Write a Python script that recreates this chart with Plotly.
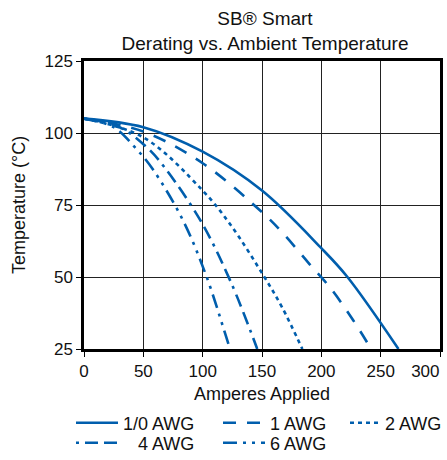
import plotly.graph_objects as go

# Data (Amperes, Temperature °C)
awg10_x = [0, 50, 100, 150, 200, 222, 265]
awg10_y = [105, 102, 93.5, 80, 60, 50, 25]

awg1_x = [0, 50, 100, 150, 167, 190, 208, 226, 242]
awg1_y = [105, 100.5, 89.5, 72.5, 65.5, 54.5, 46, 35.5, 25]

awg2_x = [0, 50, 100, 123, 152, 167, 184]
awg2_y = [105, 98.5, 80, 68.4, 50, 39.4, 25]

awg4_x = [0, 30, 53, 68, 99, 124, 146]
awg4_y = [105, 102, 95, 88, 69, 48, 25]

awg6_x = [0, 25, 43, 58, 83, 102.5, 118, 123]
awg6_y = [105, 102, 95, 87.4, 70, 51, 31.6, 25]

x_ticks = [0, 50, 100, 150, 200, 250, 300]
x_ticktext = ["0", "50", "100", "150", "200", "250", ""]
x_last_tick = [300]
x_last_text = ["300"]
y_ticks = [25, 50, 75, 100, 125]

names = ["1/0 AWG", "1 AWG", "2 AWG", "\u00a0\u00a0\u00a04 AWG", "6 AWG"]
dashes = ["solid", "13px,11px", "4px,4px", "3px,6px,13px,6px,13px,6px", "14px,6px,3px,6px,3px,6px"]
series = [(awg10_x, awg10_y), (awg1_x, awg1_y), (awg2_x, awg2_y), (awg4_x, awg4_y), (awg6_x, awg6_y)]

COLOR = "#005EAD"
FONT = "Liberation Sans, Arial, sans-serif"

W, H = 447, 460
L, R, T, B = 84, 7, 61, 111

# legend box left x (px), row centre y (px), sample width
legend_pos = [(71, 423, 42), (218, 423, 42), (345, 423, 30), (71, 443, 42), (218, 443, 42)]
legend_keys = ["legend", "legend2", "legend3", "legend4", "legend5"]

fig = go.Figure()
for i, ((xs, ys), nm, ds) in enumerate(zip(series, names, dashes)):
    fig.add_trace(go.Scatter(
        x=xs, y=ys, mode="lines", name=nm,
        line=dict(color=COLOR, width=2.6, dash=ds, shape="spline", smoothing=1.0),
        legend=legend_keys[i], showlegend=True,
    ))

# empty helper trace so the overlay axis carrying the last x tick label is drawn
fig.add_trace(go.Scatter(x=[], y=[], xaxis="x2", yaxis="y", showlegend=False,
                         hoverinfo="skip", mode="lines"))

layout_legends = {}
for key, (px, py, iw) in zip(legend_keys, legend_pos):
    layout_legends[key] = dict(
        x=px / W, y=1 - py / H, xref="container", yref="container",
        xanchor="left", yanchor="middle",
        orientation="h", font=dict(family=FONT, size=18, color="#111"),
        bgcolor="rgba(0,0,0,0)", borderwidth=0, itemwidth=iw,
        tracegroupgap=0,
    )

fig.update_layout(
    width=W, height=H,
    margin=dict(l=L, r=R, t=T, b=B, pad=0),
    paper_bgcolor="white", plot_bgcolor="white",
    font=dict(family=FONT, size=17, color="#111"),
    title=dict(text="SB® Smart<br>Derating vs. Ambient Temperature",
               x=265 / W, xanchor="center", xref="container",
               y=1 - 25 / H, yanchor="middle", yref="container",
               font=dict(family=FONT, size=19, color="#111")),
    xaxis=dict(range=[0, 300], tickvals=x_ticks, ticktext=x_ticktext,
               showgrid=True, gridcolor="#222", gridwidth=1,
               showline=True, linecolor="black", linewidth=2.5, mirror=True,
               ticks="outside", ticklen=5, tickcolor="black", zeroline=False,
               tickfont=dict(size=17), automargin=False,
               title=dict(text="Amperes Applied", font=dict(size=18), standoff=9)),
    xaxis2=dict(range=[0, 300], overlaying="x", anchor="y", side="bottom",
                tickvals=x_last_tick, ticktext=x_last_text,
                ticklabelposition="outside left", ticklabelstandoff=7,
                showgrid=False, showline=False, zeroline=False,
                ticks="outside", ticklen=5, tickcolor="rgba(0,0,0,0)",
                tickfont=dict(size=17), automargin=False),
    yaxis=dict(range=[25, 125], tickvals=y_ticks,
               showgrid=True, gridcolor="#222", gridwidth=1,
               showline=True, linecolor="black", linewidth=2.5, mirror=True,
               ticks="outside", ticklen=5, tickcolor="black", zeroline=False,
               tickfont=dict(size=17), automargin=False,
               title=dict(text="Temperature (°C)", font=dict(size=18), standoff=15)),
    **layout_legends,
)

fig.write_html("out.html", config={"displayModeBar": False},
               post_script="document.body.style.margin='0';")
